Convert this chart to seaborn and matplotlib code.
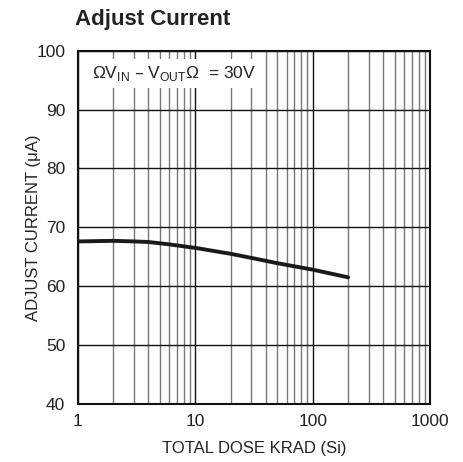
import pandas as pd
import matplotlib.pyplot as plt
import seaborn as sns

# data
dose_krad = [1, 2, 3, 4, 6, 10, 20, 30, 50, 100, 200]
adjust_ua = [67.6, 67.7, 67.6, 67.5, 67.1, 66.5, 65.5, 64.8, 63.9, 62.8, 61.5]
x_ticks = [1, 10, 100, 1000]
x_tick_labels = ["1", "10", "100", "1000"]
y_ticks = [40, 50, 60, 70, 80, 90, 100]

df = pd.DataFrame({"dose": dose_krad, "current": adjust_ua})

sns.set_style("white")
plt.rcParams["font.family"] = ["Liberation Sans Narrow", "Liberation Sans", "DejaVu Sans"]

fig = plt.figure(figsize=(4.63, 4.62), dpi=100)
ax = fig.add_axes([0.168, 0.126, 0.761, 0.764])

sns.lineplot(data=df, x="dose", y="current", ax=ax, color="#1a1a1a", linewidth=2.8, zorder=4)

ax.set_xscale("log")
ax.set_xlim(1, 1000)
ax.set_ylim(40, 100)
ax.set_xticks(x_ticks)
ax.set_xticklabels(x_tick_labels)
ax.set_yticks(y_ticks)

# grid: every decade and sub-decade vertically, every 10 uA horizontally
ax.grid(True, which="major", axis="both", color="#111111", linewidth=1.0, zorder=1)
ax.grid(True, which="minor", axis="x", color="#777777", linewidth=1.0, zorder=1)
ax.set_axisbelow(True)

ax.tick_params(axis="both", which="both", length=0, labelsize=12.5, colors="#222222")
ax.tick_params(axis="x", pad=7)
ax.tick_params(axis="y", pad=9)

for s in ax.spines.values():
    s.set_color("#111111")
    s.set_linewidth(1.5)

ax.set_xlabel("TOTAL DOSE KRAD (Si)", fontsize=12, color="#222222", labelpad=9)
ax.set_ylabel("ADJUST CURRENT (μA)", fontsize=12, color="#222222")
ax.yaxis.set_label_coords(-0.105, 0.5)

ax.text(0.04, 0.935, r"ΩV$_{\mathregular{IN}}$ – V$_{\mathregular{OUT}}$Ω  = 30V",
        transform=ax.transAxes, fontsize=12.5, color="#222222", va="center", ha="left",
        zorder=3, bbox=dict(facecolor="white", edgecolor="none", pad=3.5))

fig.text(75 / 463, 1 - 19 / 462, "Adjust Current", fontsize=16, fontweight="bold",
         color="#222222", ha="left", va="center")

fig.savefig("out.png", dpi=100)
